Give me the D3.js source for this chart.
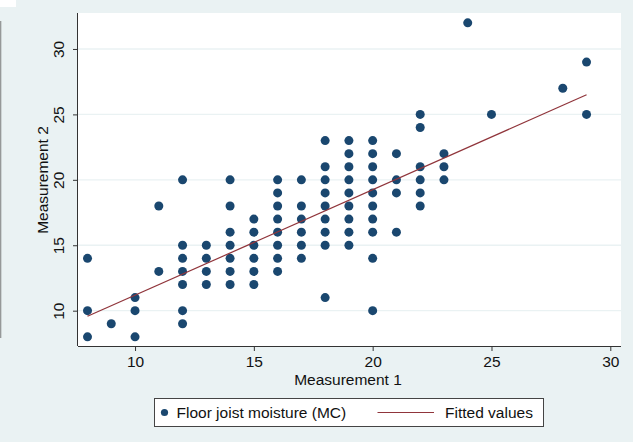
<!DOCTYPE html>
<html>
<head>
<meta charset="utf-8">
<script src="https://cdn.jsdelivr.net/npm/d3@7"></script>
<style>
  body { margin: 0; background: #eaf2f3; }
  svg { display: block; font-family: "Liberation Sans", Arial, sans-serif; }
  .tick text { font-size: 15.5px; fill: #111; }
</style>
</head>
<body>
<div id="chart"></div>
<script>
  const W = 633
  const H = 442
  const MARGIN = { left: 78, top: 13, right: 12, bottom: 96 }

  const m1 = [
    8, 8, 8,
    9,
    10, 10, 10,
    11, 11,
    12, 12, 12, 12, 12, 12, 12,
    13, 13, 13, 13,
    14, 14, 14, 14, 14, 14, 14,
    15, 15, 15, 15, 15, 15,
    16, 16, 16, 16, 16, 16, 16, 16,
    17, 17, 17, 17, 17, 17,
    18, 18, 18, 18, 18, 18, 18, 18, 18,
    19, 19, 19, 19, 19, 19, 19, 19, 19,
    20, 20, 20, 20, 20, 20, 20, 20, 20, 20,
    21, 21, 21, 21,
    22, 22, 22, 22, 22, 22,
    23, 23, 23,
    24,
    25,
    28,
    29, 29
  ]
  const m2 = [
    14, 10, 8,
    9,
    11, 10, 8,
    18, 13,
    20, 15, 14, 13, 12, 10, 9,
    15, 14, 13, 12,
    20, 18, 16, 15, 14, 13, 12,
    17, 16, 15, 14, 13, 12,
    20, 19, 18, 17, 16, 15, 14, 13,
    20, 18, 17, 16, 15, 14,
    23, 21, 20, 19, 18, 17, 16, 15, 11,
    23, 22, 21, 20, 19, 18, 17, 16, 15,
    23, 22, 21, 20, 19, 18, 17, 16, 14, 10,
    22, 20, 19, 16,
    25, 24, 21, 20, 19, 18,
    22, 21, 20,
    32,
    25,
    27,
    29, 25
  ]

  // fitted line end points
  const fitX = [8, 29]
  const fitY = [9.57, 26.5]

  const xTicks = [10, 15, 20, 25, 30]
  const yTicks = [10, 15, 20, 25, 30]

  const NAVY = '#1a476f'
  const MAROON = '#90353b'
  const BG = '#eaf2f3'

  const width = W - MARGIN.left - MARGIN.right
  const height = H - MARGIN.top - MARGIN.bottom

  const svg = d3.select('#chart').append('svg')
    .attr('width', W)
    .attr('height', H)

  svg.append('rect').attr('width', W).attr('height', H).attr('fill', BG)

  // bits of the screenshot edge
  svg.append('rect').attr('width', 16).attr('height', 7).attr('fill', '#fff')
  svg.append('line')
    .attr('x1', 0.7).attr('x2', 0.7).attr('y1', 21).attr('y2', 338)
    .attr('stroke', '#666').attr('stroke-width', 1.2).attr('opacity', 0.7)

  const x = d3.scaleLinear().domain([7.6, 30.45]).range([0, width])
  const y = d3.scaleLinear().domain([7.3, 32.75]).range([height, 0])

  const g = svg.append('g')
    .attr('transform', `translate(${MARGIN.left}, ${MARGIN.top})`)

  g.append('rect')
    .attr('width', width)
    .attr('height', height)
    .attr('fill', '#fff')

  // horizontal grid
  g.selectAll('.grid')
    .data(yTicks)
    .join('line')
    .classed('grid', true)
    .attr('x1', 0).attr('x2', width)
    .attr('y1', d => y(d)).attr('y2', d => y(d))
    .attr('stroke', BG)
    .attr('stroke-width', 1.3)

  const xAxis = d3.axisBottom(x).tickValues(xTicks).tickSize(5).tickPadding(4)
  const yAxis = d3.axisLeft(y).tickValues(yTicks).tickSize(5)

  const gx = g.append('g')
    .attr('transform', `translate(0, ${height})`)
    .call(xAxis)
  gx.select('.domain').attr('d', `M0,0.5H${width}`)

  const gy = g.append('g').call(yAxis)
  gy.select('.domain').attr('d', `M-0.5,0V${height}`)

  g.selectAll('.domain, .tick line').attr('stroke', '#333').attr('stroke-width', 1)
  gx.selectAll('.tick text').attr('dy', '0.75em')
  gy.selectAll('.tick text')
    .attr('text-anchor', 'middle')
    .attr('transform', 'rotate(-90)')
    .attr('x', 0)
    .attr('y', -14)
    .attr('dy', '0')

  // points
  g.selectAll('.pt')
    .data(m1.map((v, i) => [v, m2[i]]))
    .join('circle')
    .classed('pt', true)
    .attr('cx', d => x(d[0]))
    .attr('cy', d => y(d[1]))
    .attr('r', 4.5)
    .attr('fill', NAVY)

  // fitted line
  g.append('path')
    .datum(fitX.map((v, i) => [v, fitY[i]]))
    .attr('d', d3.line().x(d => x(d[0])).y(d => y(d[1])))
    .attr('fill', 'none')
    .attr('stroke', MAROON)
    .attr('stroke-width', 1.2)

  // axis titles
  svg.append('text')
    .attr('x', 348).attr('y', 385)
    .attr('text-anchor', 'middle')
    .attr('font-size', '15.5px').attr('fill', '#111')
    .text('Measurement 1')

  svg.append('text')
    .attr('transform', 'translate(47.5, 180) rotate(-90)')
    .attr('text-anchor', 'middle')
    .attr('font-size', '15.5px').attr('fill', '#111')
    .text('Measurement 2')

  // legend
  const lg = svg.append('g').attr('transform', 'translate(154, 398)')
  lg.append('rect')
    .attr('x', 0.5).attr('y', 0.5)
    .attr('width', 389).attr('height', 28)
    .attr('fill', '#fff').attr('stroke', '#444').attr('stroke-width', 1)
  lg.append('circle').attr('cx', 10.5).attr('cy', 14.5).attr('r', 3.6).attr('fill', NAVY)
  lg.append('text').attr('x', 22.5).attr('y', 20)
    .attr('font-size', '15.5px').attr('fill', '#111')
    .text('Floor joist moisture (MC)')
  lg.append('line').attr('x1', 223.5).attr('x2', 280).attr('y1', 14.5).attr('y2', 14.5)
    .attr('stroke', MAROON).attr('stroke-width', 1.2)
  lg.append('text').attr('x', 291).attr('y', 20)
    .attr('font-size', '15.5px').attr('fill', '#111')
    .text('Fitted values')
</script>
</body>
</html>
